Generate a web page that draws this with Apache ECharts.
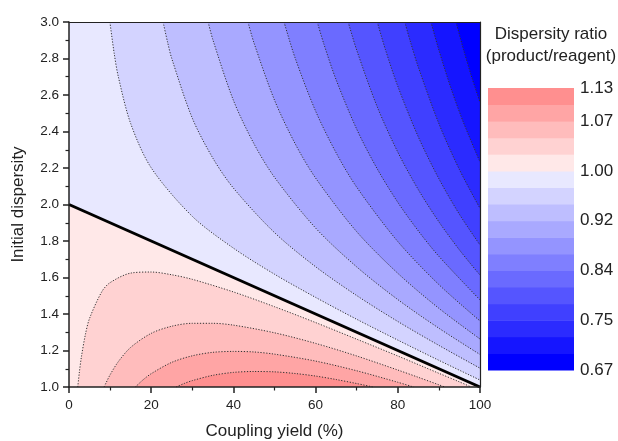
<!DOCTYPE html>
<html>
<head>
<meta charset="utf-8">
<script src="https://cdn.jsdelivr.net/npm/echarts@6/dist/echarts.min.js"></script>
<style>
  html, body { margin: 0; padding: 0; background: #fff; }
  #chart { width: 618px; height: 441px; }
</style>
</head>
<body>
<div id="chart"></div>
<script>
// contour lines: [coupling yield %, initial dispersity]
const ratioOne = [[0, 2.0], [100, 1.0]]; // ratio = 1.00 (thick line)

// blue side, from light to dark
const c098 = [[9.95, 3], [11, 2.827], [12, 2.70], [15, 2.444], [20, 2.201], [30, 1.935], [40, 1.761], [50, 1.618], [60, 1.491], [70, 1.371], [80, 1.257], [90, 1.146], [100, 1.038]];
const c095 = [[22.89, 3], [24, 2.888], [25, 2.800], [30, 2.473], [35, 2.254], [40, 2.090], [50, 1.846], [60, 1.659], [70, 1.501], [80, 1.359], [90, 1.228], [100, 1.103]];
const c092 = [[33.85, 3], [35, 2.903], [40, 2.571], [45, 2.333], [50, 2.149], [60, 1.871], [70, 1.658], [80, 1.479], [90, 1.322], [100, 1.178]];
const c090 = [[43.54, 3], [45, 2.886], [50, 2.572], [55, 2.334], [60, 2.145], [70, 1.851], [80, 1.623], [90, 1.431], [100, 1.263]];
const c087 = [[52.32, 3], [55, 2.804], [60, 2.512], [65, 2.283], [70, 2.095], [80, 1.797], [90, 1.561], [100, 1.362]];
const c084 = [[60.40, 3], [62, 2.880], [65, 2.683], [70, 2.413], [75, 2.195], [80, 2.012], [85, 1.855], [90, 1.716], [100, 1.477]];
const c081 = [[67.92, 3], [70, 2.846], [75, 2.535], [80, 2.287], [85, 2.081], [90, 1.905], [95, 1.751], [100, 1.613]];
const c078 = [[75, 3], [77, 2.848], [80, 2.648], [85, 2.370], [90, 2.141], [95, 1.946], [100, 1.778]];
const c075 = [[81.70, 3], [83, 2.897], [85, 2.752], [90, 2.443], [95, 2.191], [100, 1.979]];
const c072 = [[88.07, 3], [90, 2.846], [93, 2.633], [96, 2.448], [100, 2.233]];
const c070 = [[94.16, 3], [96, 2.848], [98, 2.697], [100, 2.560]];

// red side, from light to dark
const c101 = [[2.13, 1], [2.5, 1.077], [3, 1.163], [4, 1.289], [5, 1.376], [8, 1.523], [10, 1.572], [15, 1.624], [20, 1.630], [25, 1.615], [30, 1.590], [40, 1.521], [50, 1.440], [60, 1.353], [70, 1.262], [80, 1.170], [90, 1.075], [95, 1.028], [97.87, 1]];
const c104 = [[8.54, 1], [9, 1.022], [10, 1.067], [12, 1.139], [15, 1.217], [20, 1.294], [25, 1.333], [30, 1.349], [35, 1.349], [40, 1.339], [50, 1.297], [60, 1.239], [70, 1.170], [80, 1.093], [85, 1.053], [90, 1.012], [91.46, 1]];
const c107 = [[16.15, 1], [18, 1.039], [20, 1.073], [25, 1.135], [30, 1.171], [35, 1.190], [40, 1.195], [45, 1.192], [50, 1.180], [60, 1.142], [70, 1.089], [80, 1.026], [83.85, 1]];
const c110 = [[26.06, 1], [28, 1.019], [30, 1.035], [35, 1.064], [40, 1.080], [45, 1.085], [50, 1.083], [55, 1.074], [60, 1.060], [65, 1.041], [70, 1.019], [73.94, 1]];

const blueCurves = [c098, c095, c092, c090, c087, c084, c081, c078, c075, c072, c070];
const redCurves = [c101, c104, c107, c110];

// colour scale: band edges shown as tick labels
const scaleTickIndex = [0, 3, 6, 9, 12, 15, 17];
const scaleTickLabels = ['0.67', '0.75', '0.84', '0.92', '1.00', '1.07', '1.13'];

const blueColors = ['#e8e8ff', '#d3d3ff', '#bebeff', '#a9a9ff', '#9494ff', '#7f7fff', '#6a6aff', '#5555ff', '#4040ff', '#2b2bff', '#1515ff', '#0000ff'];
const redColors = ['#ffe8e8', '#ffd2d2', '#ffbcbc', '#ffa5a5', '#ff8f8f'];
const scaleColors = blueColors.slice().reverse().concat(redColors);

const FONT = '"Liberation Sans", Arial, sans-serif';
const INK = '#222';

function fillLayer(data, color, origin) {
    return {
        type: 'line', data: data, smooth: 0.3,
        symbol: 'none', silent: true, z: 2,
        lineStyle: { opacity: 0 },
        areaStyle: { color: color, opacity: 1, origin: origin }
    };
}
function dotLine(data) {
    return {
        type: 'line', data: data, smooth: 0.3,
        symbol: 'none', silent: true, z: 3,
        lineStyle: { color: '#333', width: 1, type: [1.2, 1.6] }
    };
}

const series = [];
series.push(fillLayer(ratioOne, blueColors[0], 'end'));
series.push(fillLayer(ratioOne, redColors[0], 'start'));
blueCurves.forEach((c, i) => series.push(fillLayer(c, blueColors[i + 1], 'end')));
redCurves.forEach((c, i) => series.push(fillLayer(c, redColors[i + 1], 'start')));
blueCurves.concat(redCurves).forEach(c => series.push(dotLine(c)));
series.push({
    type: 'line', data: ratioOne, symbol: 'none', silent: true, z: 4,
    lineStyle: { color: '#000', width: 3 }
});
// colour scale bar
series.push({
    type: 'custom', xAxisIndex: 2, yAxisIndex: 2, silent: true,
    data: scaleColors.map((c, i) => [0, i]),
    renderItem: function (params, api) {
        const i = api.value(1);
        const a = api.coord([0, i]);
        const b = api.coord([1, i + 1]);
        return {
            type: 'rect',
            shape: { x: a[0], y: b[1], width: b[0] - a[0], height: a[1] - b[1] + 0.5 },
            style: { fill: scaleColors[i] }
        };
    }
});

const chart = echarts.init(document.getElementById('chart'), null, { renderer: 'canvas' });
chart.setOption({
    animation: false,
    textStyle: { fontFamily: FONT },
    grid: [
        { left: 69, right: 138, top: 22, bottom: 54, outerBoundsMode: 'none' },
        { left: 488, width: 86, top: 88, height: 282, outerBoundsMode: 'none' }
    ],
    xAxis: [
        {
            type: 'value', gridIndex: 0, min: 0, max: 100, interval: 20, z: 10,
            name: 'Coupling yield (%)', nameLocation: 'middle', nameGap: 36,
            nameTextStyle: { color: INK, fontSize: 17, fontFamily: FONT },
            axisLine: { onZero: false, lineStyle: { color: INK, width: 1.5 } },
            axisTick: { length: 6, lineStyle: { color: INK, width: 1.5 } },
            minorTick: { show: true, splitNumber: 2, length: 3.5, lineStyle: { color: INK, width: 1.2 } },
            axisLabel: { color: INK, fontSize: 13.5, margin: 11 },
            splitLine: { show: false }
        },
        {
            type: 'value', gridIndex: 0, min: 0, max: 100, position: 'top', z: 10,
            axisLine: { onZero: false, lineStyle: { color: INK, width: 1.2 } },
            axisTick: { show: false }, axisLabel: { show: false }, splitLine: { show: false }
        },
        { type: 'value', gridIndex: 1, min: 0, max: 1, show: false }
    ],
    yAxis: [
        {
            type: 'value', gridIndex: 0, min: 1, max: 3, interval: 0.2, z: 10,
            name: 'Initial dispersity', nameLocation: 'middle', nameGap: 42,
            nameTextStyle: { color: INK, fontSize: 17, fontFamily: FONT },
            axisLine: { show: true, onZero: false, lineStyle: { color: INK, width: 1.5 } },
            axisTick: { show: true, length: 6, lineStyle: { color: INK, width: 1.5 } },
            minorTick: { show: true, splitNumber: 2, length: 3.5, lineStyle: { color: INK, width: 1.2 } },
            axisLabel: { color: INK, fontSize: 13.5, margin: 10, formatter: v => v.toFixed(1) },
            splitLine: { show: false }
        },
        {
            type: 'value', gridIndex: 0, min: 1, max: 3, position: 'right', z: 10,
            axisLine: { show: true, onZero: false, lineStyle: { color: INK, width: 1.2 } },
            axisTick: { show: false }, axisLabel: { show: false }, splitLine: { show: false }
        },
        {
            type: 'value', gridIndex: 1, min: 0, max: 17, interval: 1, position: 'right',
            axisLine: { show: false }, axisTick: { show: false }, splitLine: { show: false },
            axisLabel: {
                color: INK, fontSize: 17, margin: 6, showMinLabel: true, showMaxLabel: true,
                formatter: v => {
                    const k = scaleTickIndex.indexOf(Math.round(v));
                    return k >= 0 ? scaleTickLabels[k] : '';
                }
            }
        }
    ],
    graphic: [{
        type: 'text', x: 551, y: 23,
        style: {
            text: 'Dispersity ratio\n(product/reagent)', textAlign: 'center',
            font: '17px ' + FONT, fill: INK, lineHeight: 22
        }
    }],
    series: series
});
</script>
</body>
</html>
